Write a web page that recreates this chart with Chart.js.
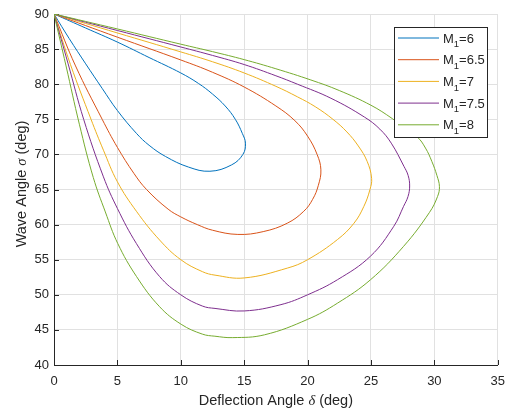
<!DOCTYPE html>
<html>
<head>
<meta charset="utf-8">
<script src="https://cdn.jsdelivr.net/npm/chart.js@4.4.1/dist/chart.umd.min.js"></script>
<style>
  html, body { margin: 0; padding: 0; background: #ffffff; }
  #wrap { width: 514px; height: 411px; position: relative; }
</style>
</head>
<body>
<div id="wrap"><canvas id="c"></canvas></div>
<script>
// Upstream Mach numbers shown in the legend
const machLabels = ['6', '6.5', '7', '7.5', '8'];
const lineColors = ['#0072BD', '#D95319', '#EDB120', '#7E2F8E', '#77AC30'];

// Axis ticks
const xTickValues = [0, 5, 10, 15, 20, 25, 30, 35];
const yTickValues = [40, 45, 50, 55, 60, 65, 70, 75, 80, 85, 90];

// Each loop: upper branch from (0, 90) out to the maximum deflection,
// then the lower branch back to (0, 90). Angles in degrees.
const deltaM6 = [0, 2.5, 5, 7.5, 10, 11.4, 12.5, 13.5, 14.3, 14.85, 15.1, 14.9, 14.0, 12.3, 10.6, 8.8, 7.5, 6.5, 5.0, 3.8, 2.5, 1.2, 0];
const sigmaM6 = [90, 88.0, 86.0, 83.8, 81.6, 80.1, 78.6, 76.9, 75.0, 73.0, 71.6, 70.0, 68.5, 67.6, 68.2, 69.7, 71.3, 73.0, 76.25, 79.4, 82.9, 86.5, 90];

const deltaM65 = [0, 5, 10, 12.5, 15, 17.5, 19.0, 20.0, 20.75, 21.05, 20.85, 20.4, 19.7, 18.4, 16.5, 14.5, 12.5, 11.3, 10.0, 9.0, 7.3, 6.3, 5.0, 3.8, 1.7, 0];
const sigmaM65 = [90, 86.7, 83.45, 81.7, 79.6, 76.9, 74.8, 72.6, 70.0, 67.8, 65.6, 63.6, 61.9, 60.2, 59.0, 58.6, 59.2, 60.0, 61.1, 62.2, 65.0, 67.3, 71.0, 75.0, 82.6, 90];

const deltaM7 = [0, 5, 10, 12.5, 15, 17.5, 19.2, 20.6, 22.0, 23.1, 24.0, 24.7, 25.05, 24.92, 24.44, 23.66, 22.35, 20.0, 18.4, 15.0, 12.7, 11.7, 10.0, 8.33, 6.5, 5.0, 3.9, 2.92, 1.3, 0];
const sigmaM7 = [90, 87.3, 84.6, 83.2, 81.6, 79.7, 78.2, 76.8, 75.0, 73.2, 71.2, 69.0, 66.6, 65.0, 62.6, 60.2, 57.86, 55.0, 53.8, 52.4, 52.8, 53.3, 55.0, 57.8, 61.9, 66.1, 70.6, 75.0, 82.8, 90];

const deltaM75 = [0, 5, 10, 12.5, 15, 17.5, 19.2, 21.84, 24.5, 25.7, 26.6, 27.6, 27.93, 28.05, 27.92, 27.57, 26.8, 24.96, 22.35, 20.0, 17.9, 15.0, 12.7, 11.7, 10.0, 8.33, 6.5, 5.0, 3.9, 2.34, 1.1, 0];
const sigmaM75 = [90, 87.65, 85.3, 84.1, 82.8, 81.2, 80.0, 78.0, 75.3, 73.6, 71.6, 68.3, 67.0, 65.5, 64.0, 62.6, 59.76, 55.5, 52.14, 50.0, 48.6, 47.7, 48.06, 48.4, 50.0, 52.6, 57.3, 62.3, 66.8, 75.0, 83.0, 90];

const deltaM8 = [0, 5, 10, 12.5, 15, 17.5, 20.26, 22.5, 25.0, 26.68, 28.64, 29.3, 29.8, 30.2, 30.4, 30.25, 29.6, 27.57, 24.96, 22.35, 20.0, 16.6, 14.1, 12.69, 11.7, 10.03, 8.33, 6.51, 5.03, 4.05, 3.1, 2.0, 0.95, 0];
const sigmaM8 = [90, 87.87, 85.7, 84.64, 83.5, 82.2, 80.6, 79.1, 77.0, 75.1, 72.5, 70.9, 69.0, 67.0, 65.4, 64.0, 61.7, 56.9, 52.14, 48.8, 46.5, 44.3, 43.9, 44.1, 44.4, 45.8, 48.3, 52.6, 57.3, 61.8, 66.7, 74.3, 82.6, 90];

const deltaSeries = [deltaM6, deltaM65, deltaM7, deltaM75, deltaM8];
const sigmaSeries = [sigmaM6, sigmaM65, sigmaM7, sigmaM75, sigmaM8];

const AXIS_COLOR = '#262626';
const GRID_COLOR = '#e1e1e1';
const FONT = '"Liberation Sans", Arial, Helvetica, sans-serif';

const datasets = machLabels.map((m, i) => ({
  label: 'M1=' + m,
  data: deltaSeries[i].map((d, k) => ({ x: d, y: sigmaSeries[i][k] })),
  showLine: true,
  borderColor: lineColors[i],
  backgroundColor: lineColors[i],
  borderWidth: 1,
  pointRadius: 0,
  pointHoverRadius: 0,
  tension: 0.4,
  fill: false,
  order: machLabels.length - 1 - i
}));

// Inward tick marks on the left and bottom axes
const innerTicks = {
  id: 'innerTicks',
  beforeDatasetsDraw(chart) {
    const { ctx, chartArea, scales } = chart;
    ctx.save();
    ctx.strokeStyle = AXIS_COLOR;
    ctx.lineWidth = 1;
    ctx.beginPath();
    xTickValues.forEach(v => {
      const px = Math.round(scales.x.getPixelForValue(v)) + 0.5;
      ctx.moveTo(px, chartArea.bottom);
      ctx.lineTo(px, chartArea.bottom - 5);
    });
    yTickValues.forEach(v => {
      const py = Math.round(scales.y.getPixelForValue(v)) + 0.5;
      ctx.moveTo(chartArea.left, py);
      ctx.lineTo(chartArea.left + 5, py);
    });
    ctx.stroke();
    ctx.restore();
  }
};

// Axis titles with an italic Greek symbol
function drawParts(ctx, parts, x, y) {
  let total = 0;
  parts.forEach(p => { ctx.font = p.font; total += ctx.measureText(p.text).width; });
  let cx = x - total / 2;
  parts.forEach(p => {
    ctx.font = p.font;
    ctx.fillText(p.text, cx, y);
    cx += ctx.measureText(p.text).width;
  });
}

const axisTitles = {
  id: 'axisTitles',
  afterDraw(chart) {
    const { ctx, chartArea } = chart;
    const plain = '14.5px ' + FONT;
    const greek = 'italic 14.5px "Liberation Serif", "DejaVu Serif", serif';
    ctx.save();
    ctx.fillStyle = AXIS_COLOR;
    ctx.textBaseline = 'alphabetic';
    ctx.textAlign = 'left';
    drawParts(ctx, [
      { text: 'Deflection Angle ', font: plain },
      { text: 'δ', font: greek },
      { text: ' (deg)', font: plain }
    ], (chartArea.left + chartArea.right) / 2, 405);
    ctx.translate(26, 184);
    ctx.rotate(-Math.PI / 2);
    drawParts(ctx, [
      { text: 'Wave Angle ', font: plain },
      { text: 'σ', font: greek },
      { text: ' (deg)', font: plain }
    ], 0, 0);
    ctx.restore();
  }
};

// Boxed legend in the upper right, with subscripted labels
const boxLegend = {
  id: 'boxLegend',
  afterDraw(chart) {
    const { ctx } = chart;
    const bx = 394.5, by = 27.5, bw = 93, bh = 110;
    ctx.save();
    ctx.fillStyle = '#ffffff';
    ctx.fillRect(bx, by, bw, bh);
    ctx.strokeStyle = AXIS_COLOR;
    ctx.lineWidth = 1;
    ctx.strokeRect(bx, by, bw, bh);
    machLabels.forEach((m, i) => {
      const y = 38 + i * 21.7;
      ctx.strokeStyle = lineColors[i];
      ctx.lineWidth = 1;
      ctx.beginPath();
      ctx.moveTo(398, y);
      ctx.lineTo(439, y);
      ctx.stroke();
      ctx.fillStyle = AXIS_COLOR;
      ctx.textBaseline = 'alphabetic';
      ctx.textAlign = 'left';
      let tx = 443;
      const base = y + 4.6;
      ctx.font = '13px ' + FONT;
      ctx.fillText('M', tx, base);
      tx += ctx.measureText('M').width;
      ctx.font = '9.5px ' + FONT;
      ctx.fillText('1', tx, base + 4.5);
      tx += ctx.measureText('1').width;
      ctx.font = '13px ' + FONT;
      ctx.fillText('=' + m, tx, base);
    });
    ctx.restore();
  }
};

new Chart(document.getElementById('c'), {
  type: 'scatter',
  data: { datasets },
  options: {
    responsive: true,
    maintainAspectRatio: false,
    animation: false,
    devicePixelRatio: 1,
    layout: { padding: { left: 0, right: 13, top: 14, bottom: 0 } },
    plugins: {
      legend: { display: false },
      tooltip: { enabled: false }
    },
    scales: {
      x: {
        type: 'linear',
        min: 0,
        max: 35,
        afterBuildTicks(scale) { scale.ticks = xTickValues.map(v => ({ value: v })); },
        afterFit(scale) { scale.height = 46; },
        ticks: {
          color: AXIS_COLOR,
          font: { family: FONT, size: 13 },
          padding: 9,
          maxRotation: 0
        },
        grid: { color: GRID_COLOR, lineWidth: 1, drawTicks: false },
        border: { color: AXIS_COLOR, width: 1 }
      },
      y: {
        type: 'linear',
        min: 40,
        max: 90,
        afterBuildTicks(scale) { scale.ticks = yTickValues.map(v => ({ value: v })); },
        afterFit(scale) { scale.width = 54; },
        ticks: {
          color: AXIS_COLOR,
          font: { family: FONT, size: 13 },
          padding: 5
        },
        grid: { color: GRID_COLOR, lineWidth: 1, drawTicks: false },
        border: { color: AXIS_COLOR, width: 1 }
      }
    }
  },
  plugins: [innerTicks, axisTitles, boxLegend]
});
</script>
</body>
</html>
